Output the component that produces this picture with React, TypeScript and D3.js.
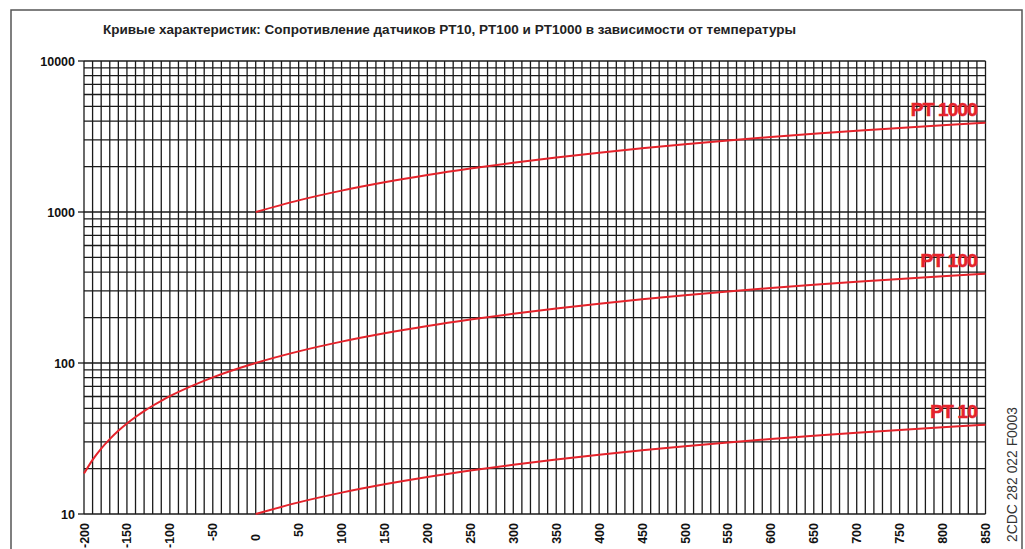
import React from "react";
import * as d3 from "d3";

// temperatures (°C) and resistances (Ohm)
const pt100Temps = [-200, -190, -180, -170, -160, -150, -140, -130, -120, -110, -100, -50, 0, 50, 100, 150, 200, 250, 300, 350, 400, 450, 500, 550, 600, 650, 700, 750, 800, 850];
const pt100Values = [18.52, 22.83, 27.1, 31.34, 35.54, 39.72, 43.88, 48.0, 52.11, 56.19, 60.26, 80.31, 100.0, 119.4, 138.51, 157.33, 175.86, 194.1, 212.05, 229.72, 247.09, 264.18, 280.98, 297.49, 313.71, 329.64, 345.28, 360.64, 375.7, 390.48];

const posTemps = [0, 50, 100, 150, 200, 250, 300, 350, 400, 450, 500, 550, 600, 650, 700, 750, 800, 850];
const pt10Values = [10.0, 11.94, 13.85, 15.73, 17.59, 19.41, 21.21, 22.97, 24.71, 26.42, 28.1, 29.75, 31.37, 32.96, 34.53, 36.06, 37.57, 39.05];
const pt1000Values = [1000, 1194, 1385.1, 1573.3, 1758.6, 1941, 2120.5, 2297.2, 2470.9, 2641.8, 2809.8, 2974.9, 3137.1, 3296.4, 3452.8, 3606.4, 3757, 3904.8];

const xTicks = [-200, -150, -100, -50, 0, 50, 100, 150, 200, 250, 300, 350, 400, 450, 500, 550, 600, 650, 700, 750, 800, 850];
const yTicks = [10, 100, 1000, 10000];

const curveLabels = [
  { text: "PT 1000", value: 3904.8 },
  { text: "PT 100", value: 390.48 },
  { text: "PT 10", value: 39.05 },
];

const title = "Кривые характеристик: Сопротивление датчиков PT10, PT100 и PT1000 в зависимости от температуры";
const docCode = "2CDC 282 022 F0003";

const W = 1025, H = 549;
const left = 84, right = 985.5, top = 61, bottom = 514;
const font = "'Liberation Sans', Arial, Helvetica, sans-serif";
const red = "#e5232b";

export default function App() {
  const x = d3.scaleLinear().domain([-200, 850]).range([left, right]);
  const y = d3.scaleLog().domain([10, 10000]).range([bottom, top]);

  // grid lines: every 10 °C and 1..9 per decade
  const vGrid = d3.range(-200, 851, 10);
  const hGrid: number[] = [];
  [10, 100, 1000].forEach(d => { for (let k = 1; k < 10; k++) hGrid.push(d * k); });
  hGrid.push(10000);

  const line = d3.line<[number, number]>()
    .x(d => x(d[0]))
    .y(d => y(d[1]))
    .curve(d3.curveMonotoneX);

  const pt100 = line(pt100Temps.map((t, i) => [t, pt100Values[i]] as [number, number]));
  const pt10 = line(posTemps.map((t, i) => [t, pt10Values[i]] as [number, number]));
  const pt1000 = line(posTemps.map((t, i) => [t, pt1000Values[i]] as [number, number]));

  return (
    <svg width={W} height={H} style={{ position: "absolute", left: 0, top: 0, background: "#fff" }} fontFamily={font}>
      {/* frame */}
      <path d={`M11,${H} V10 H1022 V${H}`} fill="none" stroke="#555" strokeWidth={1.5} />

      <text x={103} y={34} fontSize={13} fontWeight="bold" fill="#222" textLength={693} lengthAdjust="spacingAndGlyphs">{title}</text>

      <g stroke="#1a1a1a" strokeWidth={1.3}>
        {vGrid.map(t => <line key={"v" + t} x1={x(t)} x2={x(t)} y1={top} y2={bottom} />)}
        {hGrid.map(v => <line key={"h" + v} x1={left} x2={right} y1={y(v)} y2={y(v)} />)}
        {yTicks.map(v => <line key={"t" + v} x1={left - 6} x2={left} y1={y(v)} y2={y(v)} />)}
      </g>

      {yTicks.map(v => (
        <text key={"yl" + v} x={left - 9} y={y(v) + 4.5} textAnchor="end" fontSize={12.5} fontWeight="bold" fill="#111">{v}</text>
      ))}

      {xTicks.map(t => (
        <text key={"xl" + t} transform={`translate(${x(t) + 4.5},${t === 0 ? 534 : 523}) rotate(-90)`} textAnchor="end" fontSize={12.5} fontWeight="bold" fill="#111">{t}</text>
      ))}

      <g fill="none" stroke={red} strokeWidth={2}>
        <path d={pt1000 || ""} />
        <path d={pt100 || ""} />
        <path d={pt10 || ""} />
      </g>

      {curveLabels.map(l => (
        <text key={l.text} x={977} y={y(l.value) - 7} textAnchor="end" fontSize={19} fontWeight="bold" letterSpacing={-0.8}
          fill={red} stroke={red} strokeWidth={0.6}>{l.text}</text>
      ))}

      <text transform={`translate(1017,542) rotate(-90)`} fontSize={14.5} fill="#333" textLength={135} lengthAdjust="spacingAndGlyphs">{docCode}</text>
    </svg>
  );
}
